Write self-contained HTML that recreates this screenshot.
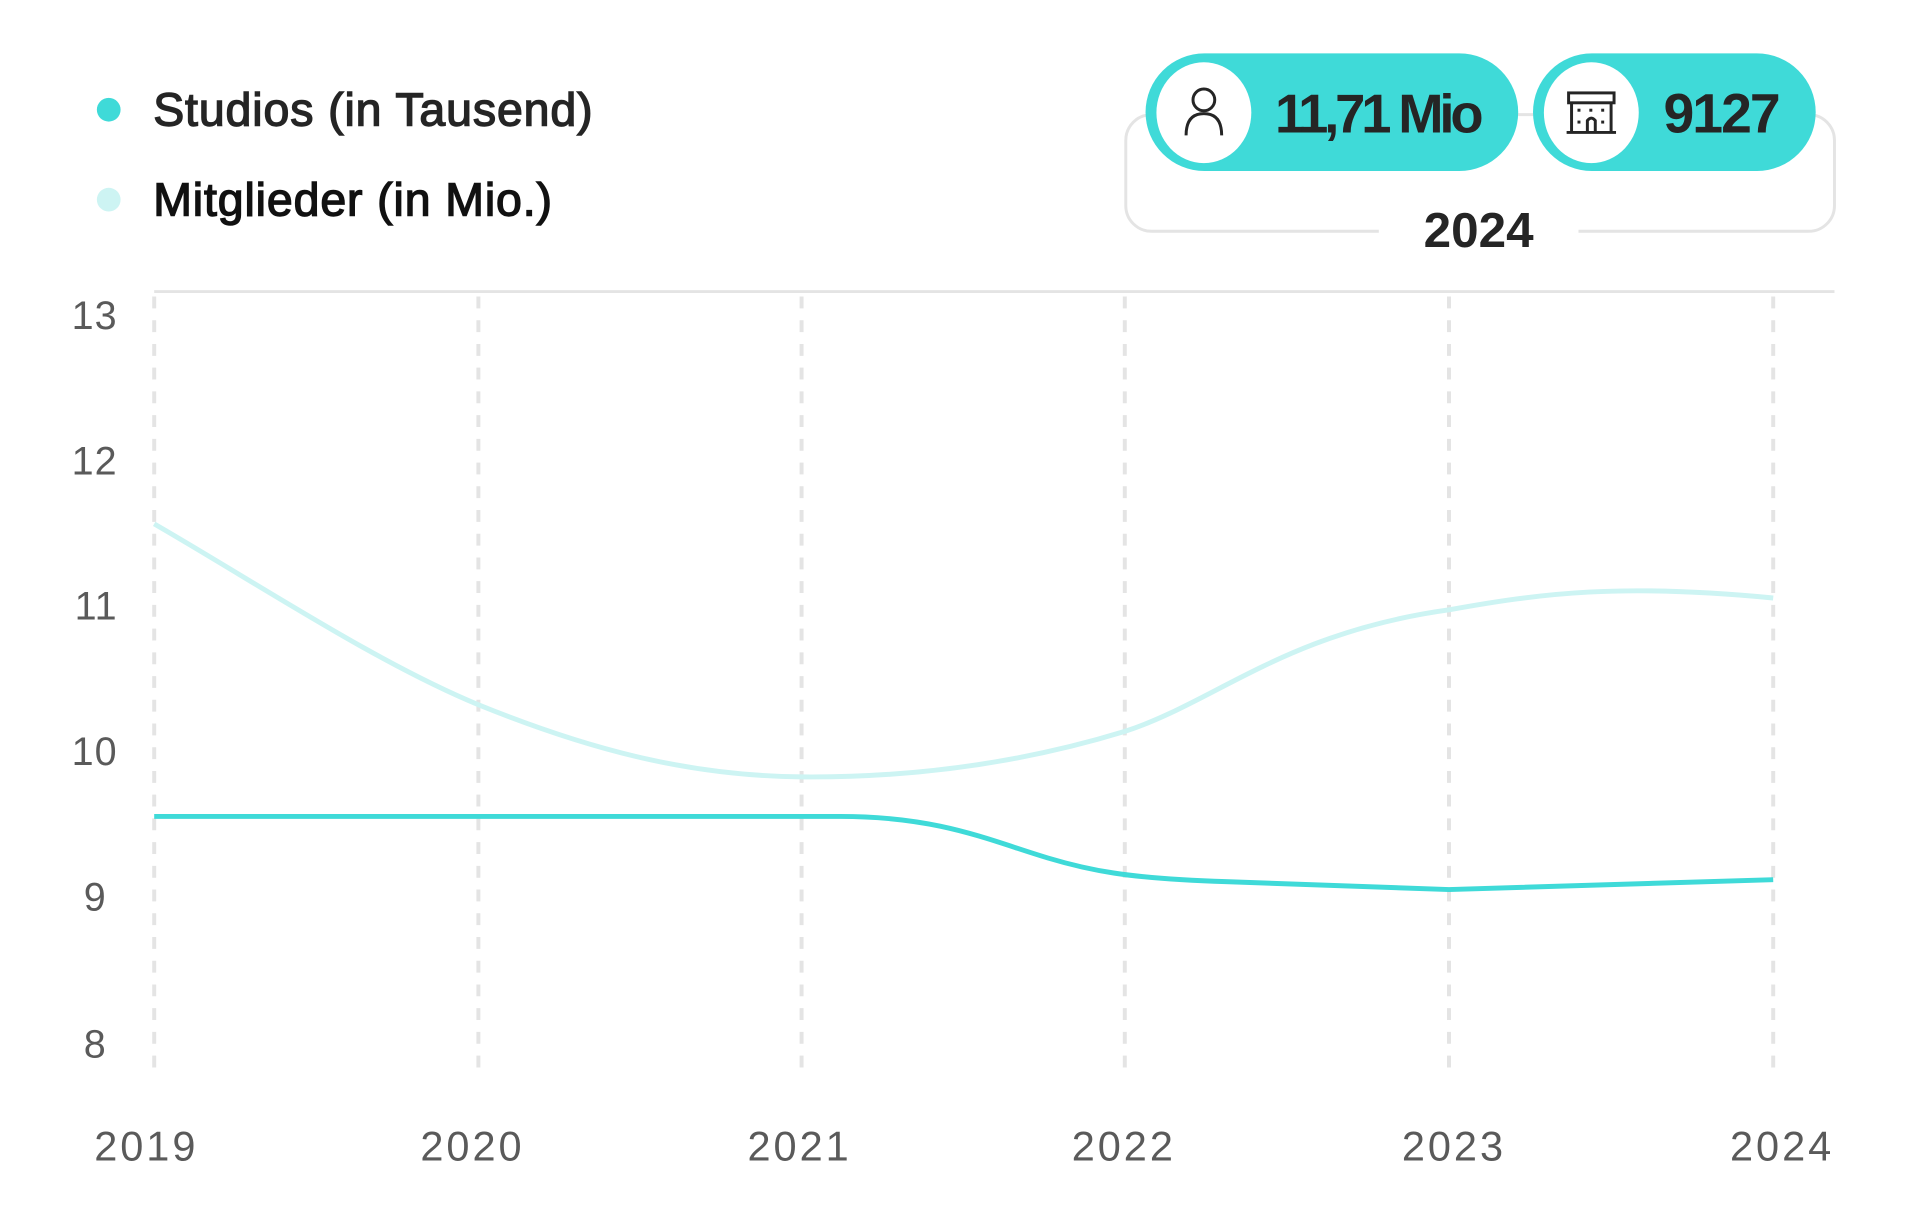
<!DOCTYPE html>
<html><head><meta charset="utf-8"><style>
html,body{margin:0;padding:0;background:#fff;}
svg{display:block;}
text{font-family:"Liberation Sans",sans-serif;}
</style></head><body>
<svg width="1932" height="1230" viewBox="0 0 1932 1230" xmlns="http://www.w3.org/2000/svg">
<rect width="1932" height="1230" fill="#fff"/>
<g transform="scale(0.9884)">
<!-- legend -->
<circle cx="110" cy="111" r="12" fill="#3fdad8"/>
<text x="155" y="127" font-size="47" fill="#252525" stroke="#252525" stroke-width="1.4" letter-spacing="0.9">Studios (in Tausend)</text>
<circle cx="110" cy="202" r="12" fill="#cdf4f3"/>
<text x="155" y="218" font-size="47" fill="#111" stroke="#111" stroke-width="1.4" letter-spacing="0.9">Mitglieder (in Mio.)</text>
<!-- 2024 box -->
<rect x="1139" y="116" width="717" height="118" rx="26" fill="none" stroke="#e4e4e4" stroke-width="3"/>
<rect x="1395" y="215" width="202" height="40" fill="#fff"/>
<text x="1496" y="250" font-size="50" font-weight="bold" fill="#252525" text-anchor="middle">2024</text>
<!-- pills -->
<rect x="1159" y="54" width="377" height="119" rx="59.5" fill="#3fdad8"/>
<ellipse cx="1218" cy="114" rx="48" ry="51" fill="#fff"/>
<g fill="none" stroke="#252525" stroke-width="3">
<circle cx="1218" cy="101" r="11"/>
<path d="M1200 137 Q1200 115 1218 115 Q1236 115 1236 137"/>
</g>
<text x="1290" y="134" font-size="55" font-weight="bold" fill="#252525" letter-spacing="-4.2">11,71 Mio</text>
<rect x="1551" y="54" width="286" height="119" rx="59.5" fill="#3fdad8"/>
<ellipse cx="1610" cy="114" rx="48" ry="51" fill="#fff"/>
<g fill="none" stroke="#252525" stroke-width="3">
<rect x="1587" y="94" width="46" height="10"/>
<path d="M1590 104 V133 M1630 104 V133 M1585 134 H1635 M1606 133 V122 Q1610 117 1614 122 V133"/>
</g>
<g fill="#252525"><rect x="1596" y="110" width="3" height="3"/><rect x="1608" y="110" width="3" height="3"/><rect x="1620" y="110" width="3" height="3"/><rect x="1596" y="122" width="3" height="3"/><rect x="1620" y="122" width="3" height="3"/></g>
<text x="1683" y="134" font-size="56" font-weight="bold" fill="#252525" letter-spacing="-2">9127</text>
<!-- grid -->
<line x1="156" y1="295" x2="1856" y2="295" stroke="#e4e4e4" stroke-width="3"/>
<g stroke="#e4e4e4" stroke-width="4" stroke-dasharray="12 12">
<line x1="156" y1="300" x2="156" y2="1080"/>
<line x1="484" y1="300" x2="484" y2="1080"/>
<line x1="811" y1="300" x2="811" y2="1080"/>
<line x1="1138" y1="300" x2="1138" y2="1080"/>
<line x1="1466" y1="300" x2="1466" y2="1080"/>
<line x1="1794" y1="300" x2="1794" y2="1080"/>
</g>
<!-- y labels -->
<g font-size="40" fill="#5a5a5a" text-anchor="end" letter-spacing="1">
<text x="119" y="333">13</text>
<text x="119" y="480">12</text>
<text x="119" y="627">11</text>
<text x="119" y="774">10</text>
<text x="108" y="921">9</text>
<text x="108" y="1070">8</text>
</g>
<!-- x labels -->
<g font-size="42" fill="#5a5a5a" text-anchor="middle" letter-spacing="3">
<text x="148" y="1174">2019</text>
<text x="478" y="1174">2020</text>
<text x="809" y="1174">2021</text>
<text x="1137" y="1174">2022</text>
<text x="1471" y="1174">2023</text>
<text x="1803" y="1174">2024</text>
</g>
<!-- series -->
<path d="M156 530 C260 590 380 670 484 713 C600 760 700 785 811 786 C930 787 1040 770 1138 740 C1230 710 1300 640 1466 617 C1560 600 1640 590 1794 605" fill="none" stroke="#cdf4f3" stroke-width="5"/>
<path d="M156 826 L850 826 C950 826 1000 850 1060 868 C1100 880 1140 889 1240 892 L1466 900 L1794 890" fill="none" stroke="#3fdad8" stroke-width="5"/>
</g>
</svg>
</body></html>
